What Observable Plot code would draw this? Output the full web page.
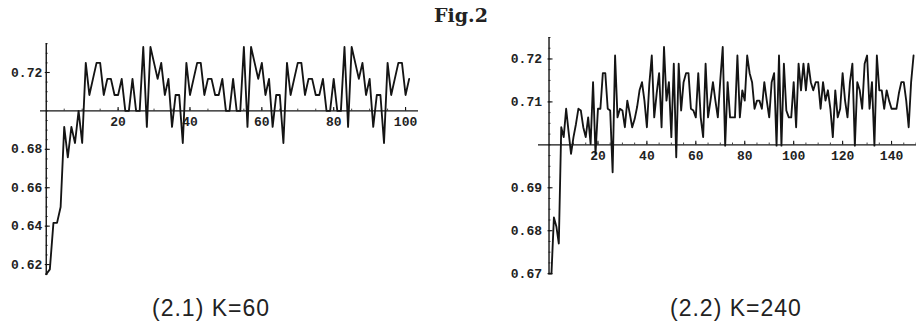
<!DOCTYPE html>
<html>
<head>
<meta charset="utf-8">
<script src="https://cdn.jsdelivr.net/npm/d3@7"></script>
<script src="https://cdn.jsdelivr.net/npm/@observablehq/plot@0.6"></script>
<style>
  html, body { margin: 0; padding: 0; background: #fff; }
  #wrap { position: relative; width: 916px; height: 326px; overflow: hidden; background: #fff; }
  .panel { position: absolute; top: 0; }
  #left { left: 0; }
  #right { left: 458px; }
  #overlay { position: absolute; left: 0; top: 0; pointer-events: none; }
</style>
</head>
<body>
<div id="wrap">
  <div id="left" class="panel"></div>
  <div id="right" class="panel"></div>
  <svg id="overlay" width="916" height="326"></svg>
</div>
<script>
// ---------- data ----------
const figTitle = "Fig.2";
const leftCaption = "(2.1) K=60";
const rightCaption = "(2.2) K=240";

// Panel 2.1 (K=60): value at step 0..101
const leftValues = [
  0.6150, 0.6175, 0.6417, 0.6417, 0.6500, 0.6917, 0.6758, 0.6917, 0.6833, 0.7000, 0.6833,
  0.7250, 0.7083, 0.7167, 0.7250, 0.7250, 0.7083, 0.7167, 0.7167, 0.7083, 0.7083, 0.7167, 0.7000, 0.7000, 0.7167,
  0.7000, 0.7000, 0.7333, 0.6917, 0.7333, 0.7250, 0.7167, 0.7250, 0.7083, 0.7167, 0.6917, 0.7083, 0.7083, 0.6833,
  0.7250, 0.7083, 0.7167, 0.7250, 0.7250, 0.7083, 0.7167, 0.7167, 0.7083, 0.7083, 0.7167, 0.7000, 0.7000, 0.7167,
  0.7000, 0.7000, 0.7333, 0.6917, 0.7333, 0.7250, 0.7167, 0.7250, 0.7083, 0.7167, 0.6917, 0.7083, 0.7083, 0.6833,
  0.7250, 0.7083, 0.7167, 0.7250, 0.7250, 0.7083, 0.7167, 0.7167, 0.7083, 0.7083, 0.7167, 0.7000, 0.7000, 0.7167,
  0.7000, 0.7000, 0.7333, 0.6917, 0.7333, 0.7250, 0.7167, 0.7250, 0.7083, 0.7167, 0.6917, 0.7083, 0.7083, 0.6833,
  0.7250, 0.7083, 0.7167, 0.7250, 0.7250, 0.7083, 0.7167
];

// Panel 2.2 (K=240): value at step 0..149
const rightValues = [
  0.6700, 0.6700, 0.6831, 0.6810, 0.6770, 0.7041, 0.7018, 0.7084, 0.7030, 0.6979,
  0.7018, 0.7048, 0.7084, 0.7080, 0.7041, 0.7018, 0.7064, 0.7002, 0.7146, 0.6979,
  0.7084, 0.7084, 0.7167, 0.7167, 0.7084, 0.7080, 0.6936, 0.7208, 0.7064, 0.7084,
  0.7080, 0.7041, 0.7103, 0.7073, 0.7041, 0.7060, 0.7088, 0.7127, 0.7146, 0.7103,
  0.7041, 0.7142, 0.7208, 0.7064, 0.7120, 0.7167, 0.7041, 0.7228, 0.7103, 0.7146,
  0.7018, 0.7189, 0.6971, 0.7189, 0.7080, 0.7146, 0.7167, 0.7167, 0.7084, 0.7080,
  0.7064, 0.7167, 0.7064, 0.7018, 0.7189, 0.7064, 0.7103, 0.7146, 0.7103, 0.7064,
  0.7150, 0.7228, 0.6998, 0.7146, 0.7064, 0.7064, 0.7064, 0.7208, 0.7064, 0.7127,
  0.7103, 0.7208, 0.7167, 0.7146, 0.7084, 0.7103, 0.7103, 0.7084, 0.7146, 0.7103,
  0.7064, 0.7146, 0.7167, 0.6998, 0.7208, 0.6998, 0.7189, 0.7080, 0.7064, 0.7064,
  0.7146, 0.7041, 0.7189, 0.7127, 0.7189, 0.7127, 0.7189, 0.7146, 0.7127, 0.7146,
  0.7146, 0.7084, 0.7146, 0.7103, 0.7127, 0.7084, 0.7018, 0.7127, 0.7064, 0.7084,
  0.7167, 0.7103, 0.7064, 0.7146, 0.7189, 0.6998, 0.7146, 0.7127, 0.7084, 0.7189,
  0.7208, 0.7084, 0.7146, 0.6998, 0.7208, 0.7127, 0.7127, 0.7084, 0.7127, 0.7103,
  0.7084, 0.7084, 0.7084, 0.7120, 0.7146, 0.7146, 0.7103, 0.7041, 0.7146, 0.7208
];

const leftYTicks = [0.62, 0.64, 0.66, 0.68, 0.72];
const leftYLabels = ["0.62", "0.64", "0.66", "0.68", "0.72"];
const leftXTicks = [20, 40, 60, 80, 100];
const leftXLabels = ["20", "40", "60", "80", "100"];

const rightYTicks = [0.67, 0.68, 0.69, 0.71, 0.72];
const rightYLabels = ["0.67", "0.68", "0.69", "0.71", "0.72"];
const rightXTicks = [20, 40, 60, 80, 100, 120, 140];
const rightXLabels = ["20", "40", "60", "80", "100", "120", "140"];

const axisCross = 0.70;

// ---------- drawing ----------
const W = 458, H = 290;
const ink = "#141414";
const monoFont = "'Liberation Mono', 'DejaVu Sans Mono', monospace";

function panel(o) {
  const pxX = (W - o.mL - o.mR) / (o.xDomain[1] - o.xDomain[0]);
  const pxY = (H - o.mT - o.mB) / (o.yDomain[1] - o.yDomain[0]);
  const rows = o.values.map((v, i) => ({step: i, value: v}));
  const yLab = o.yTicks.map((t, i) => ({t, s: o.yLabels[i]}));
  const xLab = o.xTicks.map((t, i) => ({t, s: o.xLabels[i]}));
  const yMinor = d3.range(Math.ceil(o.yDomain[0] / o.yMinorStep), Math.floor(o.yDomain[1] / o.yMinorStep) + 1)
    .map(k => k * o.yMinorStep);
  const xMinor = d3.range(o.xMinorStep, o.xDomain[1], o.xMinorStep);
  return Plot.plot({
    width: W, height: H,
    marginLeft: o.mL, marginRight: o.mR, marginTop: o.mT, marginBottom: o.mB,
    x: {domain: o.xDomain, axis: null},
    y: {domain: o.yDomain, axis: null},
    style: {background: "transparent", overflow: "visible"},
    marks: [
      Plot.ruleY([axisCross], {x1: o.xDomain[0], x2: o.xDomain[1], stroke: ink, strokeWidth: 1.4}),
      Plot.ruleX([0], {y1: o.yDomain[0], y2: o.yDomain[1], stroke: ink, strokeWidth: 1.4}),
      Plot.ruleY(yMinor, {x1: 0, x2: 2 / pxX, stroke: ink, strokeWidth: 0.8}),
      Plot.ruleY(o.yTicks, {x1: -1 / pxX, x2: 4 / pxX, stroke: ink, strokeWidth: 1.1}),
      Plot.ruleX(xMinor, {y1: axisCross, y2: axisCross + 1.8 / pxY, stroke: ink, strokeWidth: 0.8}),
      Plot.ruleX(o.xTicks, {y1: axisCross, y2: axisCross + 3.5 / pxY, stroke: ink, strokeWidth: 1.1}),
      Plot.text(yLab, {x: 0, y: "t", text: "s", textAnchor: "end", dx: o.labelDx,
        fontFamily: monoFont, fontSize: 13, fontWeight: "bold", fill: "#222"}),
      Plot.text(xLab, {x: "t", y: axisCross, text: "s", dy: 11,
        fontFamily: monoFont, fontSize: 13, fontWeight: "bold", fill: "#222"}),
      Plot.line(rows, {x: "step", y: "value", stroke: ink, strokeWidth: 1.85, strokeLinejoin: "round"})
    ]
  });
}

document.getElementById("left").append(panel({
  values: leftValues,
  xDomain: [-1.6, 103.6], yDomain: [0.6143, 0.7351],
  mL: 40, mR: 40, mT: 43, mB: 15,
  yTicks: leftYTicks, yLabels: leftYLabels, xTicks: leftXTicks, xLabels: leftXLabels,
  yMinorStep: 0.005, xMinorStep: 5, labelDx: -4
}));

document.getElementById("right").append(panel({
  values: rightValues,
  xDomain: [-4.3, 150.2], yDomain: [0.6698, 0.7250],
  mL: 80, mR: 0, mT: 37, mB: 16,
  yTicks: rightYTicks, yLabels: rightYLabels, xTicks: rightXTicks, xLabels: rightXLabels,
  yMinorStep: 0.0025, xMinorStep: 5, labelDx: -7
}));

const ov = d3.select("#overlay");
ov.append("text").attr("x", 461).attr("y", 22).attr("text-anchor", "middle")
  .attr("font-family", "'DejaVu Serif', serif").attr("font-weight", "bold").attr("font-size", 19)
  .attr("fill", "#222").text(figTitle);
ov.append("text").attr("x", 152).attr("y", 316)
  .attr("font-family", "'Liberation Sans', Arial, sans-serif").attr("font-size", 23)
  .attr("letter-spacing", 1).attr("fill", "#222").text(leftCaption);
ov.append("text").attr("x", 670).attr("y", 316)
  .attr("font-family", "'Liberation Sans', Arial, sans-serif").attr("font-size", 23)
  .attr("letter-spacing", 1).attr("fill", "#222").text(rightCaption);
</script>
</body>
</html>
